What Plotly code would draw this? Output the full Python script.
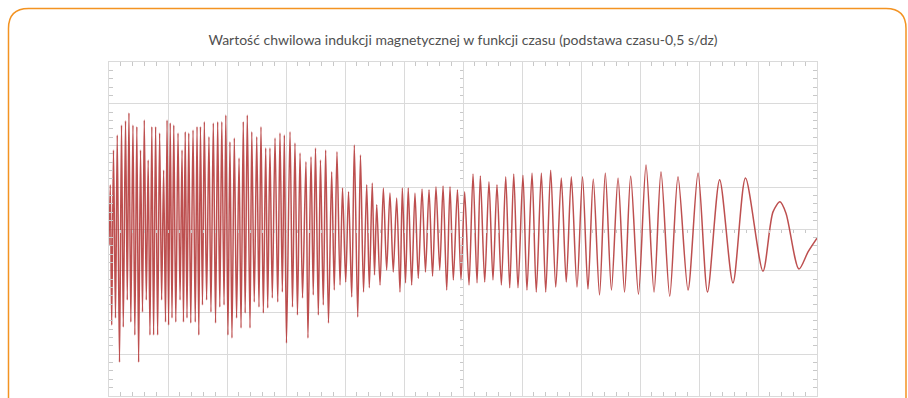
import plotly.graph_objects as go

# Time (s) of successive extrema of the trace (0.5 s/div)
t_s = [
    0.000, 0.011, 0.023, 0.038, 0.055, 0.070, 0.089, 0.106, 0.121, 0.140, 0.155, 0.169,
    0.185, 0.203, 0.219, 0.236, 0.251, 0.267, 0.284, 0.299, 0.316, 0.332, 0.347, 0.363,
    0.378, 0.395, 0.412, 0.429, 0.446, 0.463, 0.479, 0.492, 0.505, 0.519, 0.534, 0.549,
    0.566, 0.585, 0.602, 0.619, 0.631, 0.646, 0.661, 0.676, 0.693, 0.712, 0.731,
    0.746, 0.761, 0.775, 0.792, 0.808, 0.827, 0.847, 0.864, 0.884, 0.903, 0.921, 0.939,
    0.956, 0.975, 0.990, 1.008, 1.025, 1.042, 1.062, 1.081, 1.102, 1.119, 1.138, 1.154,
    1.172, 1.195, 1.210, 1.231, 1.252, 1.271, 1.288, 1.308, 1.328, 1.345, 1.364, 1.384,
    1.407, 1.430, 1.449, 1.469, 1.486, 1.504,
    1.534, 1.555, 1.576, 1.597, 1.619, 1.640, 1.669, 1.686, 1.712, 1.731, 1.750, 1.774,
    1.792, 1.816, 1.836, 1.860, 1.887, 1.909, 1.932, 1.958, 1.979, 2.006, 2.030, 2.057,
    2.079, 2.108, 2.131, 2.157, 2.184, 2.206, 2.231, 2.250,
    2.269, 2.297, 2.325, 2.353, 2.381, 2.409, 2.438, 2.466, 2.486, 2.513, 2.536, 2.565,
    2.593, 2.621, 2.653, 2.682, 2.712, 2.742, 2.771, 2.803, 2.831, 2.862, 2.890, 2.918,
    2.953, 2.983, 3.014, 3.051,
    3.085, 3.119, 3.147, 3.184, 3.220, 3.254, 3.288, 3.325, 3.362, 3.396, 3.430, 3.466,
    3.508, 3.542, 3.585, 3.621, 3.664, 3.701, 3.743, 3.786, 3.833, 3.875, 3.918, 3.966,
    4.013, 4.059, 4.104, 4.157, 4.206, 4.258, 4.314, 4.369, 4.421, 4.487,
    4.551, 4.619, 4.678, 4.752, 4.822, 4.907, 4.992, 5.072, 5.175, 5.288, 5.394, 5.542,
    5.627, 5.686, 5.737, 5.847, 5.924, 6.000,
]

# Instantaneous flux density at those instants (in screen divisions)
b_div = [
    -0.38, 1.06, -2.30, 1.89, -2.13, 2.25, -3.19, 2.49, -2.35, 2.59, -1.70, 2.78,
    -2.23, 2.49, -2.54, 2.45, -3.19, 1.89, -1.99, 2.61, -1.70, 1.65, -2.54, 2.45,
    -2.54, 2.45, -2.54, 2.30, -1.70, 1.41, -2.23, 2.61, -2.30, 2.54, -2.13, 2.49,
    -2.23, 2.30, -1.70, 1.89, -2.23, 2.33, -2.13, 2.30, -2.25, 2.37, -2.23,
    2.45, -2.54, 2.45, -1.82, 2.57, -1.70, 2.21, -1.99, 2.54, -2.25, 2.57, -1.87,
    2.57, -1.82, 2.73, -2.54, 2.09, -2.61, 2.18, -2.13, 1.70, -2.37, 2.57, -2.01,
    2.73, -2.37, 2.33, -1.75, 2.21, -1.87, 2.45, -2.01, 1.94, -1.89, 1.94, -1.65,
    2.18, -1.75, 2.30, -1.51, 2.25, -2.73,
    2.33, -1.87, 2.06, -2.06, 1.82, -1.65, 1.61, -2.61, 1.73, -1.58, 1.94, -2.06,
    1.65, -1.82, 1.89, -2.25, 1.37, -1.46, 1.85, -1.34, 0.98, -1.27, 0.89, -1.63,
    2.01, -2.11, 1.77, -1.51, 1.06, -1.41, 1.10, -1.10,
    0.58, -1.34, 0.98, -0.98, 0.86, -1.03, 0.74, -1.51, 0.98, -1.29, 0.98, -1.34,
    0.86, -1.18, 0.96, -1.03, 0.94, -1.13, 1.01, -0.98, 1.03, -1.46, 1.01, -1.22,
    0.94, -1.22, 0.89, -1.34,
    1.32, -1.29, 1.27, -1.27, 1.13, -1.22, 1.06, -1.34, 1.25, -1.41, 1.32, -1.41,
    1.29, -1.46, 1.34, -1.51, 1.34, -1.51, 1.41, -1.39, 1.22, -1.27, 1.25, -1.39,
    1.25, -1.44, 1.20, -1.58, 1.34, -1.46, 1.22, -1.51, 1.27, -1.56,
    1.53, -1.51, 1.37, -1.61, 1.25, -1.46, 1.34, -1.51, 1.18, -1.29, 1.22, -1.01,
    0.41, 0.65, 0.38, -0.96, -0.55, -0.22,
]

title_text = "Wartość chwilowa indukcji magnetycznej w funkcji czasu (podstawa czasu-0,5 s/dz)"

GRID = "#dadada"
TICK = "#c8c8c8"

fig = go.Figure()
fig.add_trace(go.Scatter(
    x=t_s, y=b_div, mode="lines",
    line=dict(color="rgba(178,48,48,0.85)", width=1.5, shape="spline", smoothing=0.8),
    hoverinfo="skip", showlegend=False,
))
# empty trace so the centre (cross-hair) axes get drawn
fig.add_trace(go.Scatter(x=[], y=[], xaxis="x2", yaxis="y2", showlegend=False))

fig.update_layout(
    width=908, height=398,
    margin=dict(l=109, r=91, t=62, b=2),
    paper_bgcolor="white", plot_bgcolor="white",
    title=dict(text=title_text, x=0.5, xref="paper", xanchor="center",
               y=1 - 40 / 398, yanchor="middle",
               font=dict(family="Lato", size=14, color="#505050")),
    xaxis=dict(range=[0, 6], dtick=0.5, showgrid=True, gridcolor=GRID, gridwidth=1,
               zeroline=False, showticklabels=False, ticks="",
               showline=True, linecolor=GRID, linewidth=1, mirror="ticks",
               minor=dict(dtick=0.1, ticks="inside", ticklen=4, tickcolor=TICK, showgrid=False)),
    yaxis=dict(range=[-4, 4], dtick=1, showgrid=True, gridcolor=GRID, gridwidth=1,
               zeroline=False, showticklabels=False, ticks="",
               showline=True, linecolor=GRID, linewidth=1, mirror="ticks",
               minor=dict(dtick=0.2, ticks="inside", ticklen=4, tickcolor=TICK, showgrid=False)),
    xaxis2=dict(range=[0, 6], overlaying="x", anchor="free", position=0.5,
                showgrid=False, zeroline=False, showticklabels=False, ticks="",
                showline=False,
                minor=dict(dtick=0.1, ticks="outside", ticklen=3, tickcolor=TICK, showgrid=False)),
    yaxis2=dict(range=[-4, 4], overlaying="y", anchor="free", position=0.5,
                showgrid=False, zeroline=False, showticklabels=False, ticks="",
                showline=False,
                minor=dict(dtick=0.2, ticks="outside", ticklen=3, tickcolor=TICK, showgrid=False)),
    shapes=[dict(
        type="path", xref="paper", yref="paper",
        path=("M -0.14195 -0.0719 L -0.14195 1.10030 "
              "Q -0.14195 1.16018 -0.11370 1.16018 "
              "L 1.09746 1.16018 Q 1.12571 1.16018 1.12571 1.10030 "
              "L 1.12571 -0.0719"),
        line=dict(color="#f39322", width=1.5), layer="above",
    )],
)

fig.write_html("out.html", config={"displayModeBar": False},
               post_script="document.body.style.margin='0';")
